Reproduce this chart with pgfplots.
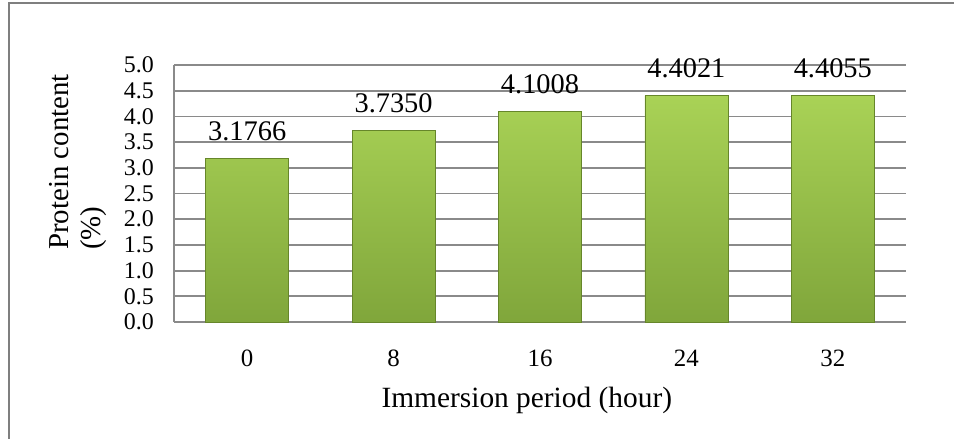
\documentclass[border=0pt]{standalone}
\usepackage{pgfplots}
\pgfplotsset{compat=1.18}
\usepackage{fontspec}
\setmainfont{Liberation Serif}

\definecolor{gridgray}{HTML}{8A8A8A}
\definecolor{frame}{HTML}{7F7F7F}
\definecolor{bartop}{HTML}{A9D256}
\definecolor{barbot}{HTML}{80A63B}
\definecolor{baredge}{HTML}{66862A}

\begin{document}
\begin{tikzpicture}
\useasboundingbox (0bp,0bp) rectangle (954bp,-439bp);
\draw[frame, line width=2.5bp] (9bp,-440bp) -- (9bp,-3bp) -- (955bp,-3bp);

\begin{axis}[
    at={(174bp,-322bp)}, anchor=south west,
    scale only axis,
    width=732bp, height=257bp,
    xmin=-0.5, xmax=4.5,
    ymin=0, ymax=5,
    ytick={0,0.5,...,5},
    yticklabel style={/pgf/number format/fixed, /pgf/number format/fixed zerofill, /pgf/number format/precision=1,
                      font=\fontsize{24}{26}\selectfont, inner sep=0pt, anchor=east, xshift=-20bp},
    xtick=data,
    xticklabels={0,8,16,24,32},
    xticklabel style={font=\fontsize{25}{27}\selectfont, inner sep=0pt, anchor=north, yshift=-28bp},
    major tick length=0pt,
    axis x line*=bottom, axis y line*=left,
    axis line style={gridgray, line width=1.8bp, -},
    ymajorgrids,
    major grid style={gridgray, line width=1.8bp},
    /pgf/number format/assume math mode=true,
    xlabel={Immersion period (hour)},
    xlabel style={font=\fontsize{29.5}{33}\selectfont, inner sep=0pt,
                  at={(axis description cs:0.482,0)}, anchor=north, yshift=-65bp},
    ylabel={Protein content\\(\%)},
    ylabel style={font=\fontsize{29}{32}\selectfont, align=left, inner sep=0pt,
                  at={(axis description cs:-0.0915,0.28)}, anchor=south west},
    ybar, bar width=83bp, bar shift=0pt,
    point meta=explicit symbolic,
    nodes near coords={\fontsize{28.5}{30}\selectfont\pgfplotspointmeta},
    nodes near coords style={black, anchor=south, inner sep=0pt, yshift=17bp},
    clip=false,
]
\addplot[draw=baredge, line width=0.8bp, top color=bartop, bottom color=barbot]
  coordinates {(0,3.1766)[3.1766] (1,3.7350)[3.7350] (2,4.1008)[4.1008] (3,4.4021)[4.4021] (4,4.4055)[4.4055]};
\end{axis}
\end{tikzpicture}
\end{document}
